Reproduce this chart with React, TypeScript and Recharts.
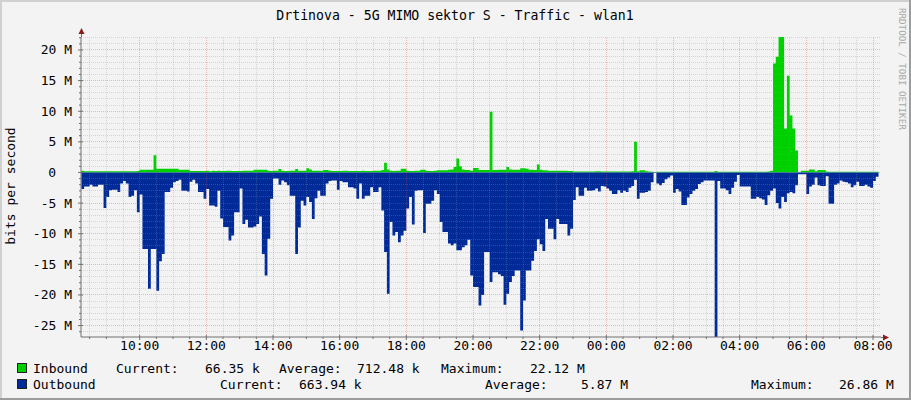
import React from "react";
import { ComposedChart, Area, XAxis, YAxis, ReferenceLine } from "recharts";

// samples every 5 minutes, first one at 08:15 (t = minutes after 08:00)
const START_MIN = 15;
const STEP_MIN = 5;

// inbound, Mbit/s, one row per hour
const inbound = [
  0.3, 0.2, 0.2, 0.2, 0.2, 0.2, 0.2, 0.2, 0.2, 0.2, 0.2, 0.2,
  0.2, 0.2, 0.2, 0.2, 0.2, 0.2, 0.2, 0.2, 0.25, 0.45, 0.45, 0.45,
  0.45, 0.45, 2.8, 0.6, 0.6, 0.6, 0.6, 0.6, 0.6, 0.6, 0.6, 0.45,
  0.45, 0.45, 0.45, 0.25, 0.25, 0.25, 0.25, 0.25, 0.25, 0.3, 0.2, 0.3,
  0.25, 0.3, 0.25, 0.25, 0.3, 0.3, 0.25, 0.25, 0.25, 0.25, 0.3, 0.3,
  0.3, 0.3, 0.45, 0.45, 0.45, 0.45, 0.45, 0.3, 0.25, 0.3, 0.3, 0.55,
  0.3, 0.25, 0.25, 0.3, 0.3, 0.55, 0.3, 0.3, 0.3, 0.7, 0.5, 0.3,
  0.3, 0.3, 0.3, 0.4, 0.4, 0.3, 0.25, 0.25, 0.25, 0.25, 0.3, 0.3,
  0.25, 0.25, 0.25, 0.25, 0.25, 0.3, 0.25, 0.25, 0.25, 0.3, 0.3, 0.3,
  0.4, 1.6, 0.5, 0.3, 0.25, 0.3, 0.3, 0.6, 0.6, 0.3, 0.25, 0.25,
  0.3, 0.3, 0.45, 0.45, 0.25, 0.25, 0.25, 0.3, 0.35, 0.35, 0.35, 0.35,
  0.45, 0.5, 0.9, 2.3, 1.0, 0.5, 0.4, 0.4, 0.3, 0.75, 0.75, 0.4,
  0.4, 0.4, 0.4, 9.9, 0.4, 0.4, 0.45, 0.45, 0.45, 0.9, 0.5, 0.45,
  0.45, 0.45, 0.7, 0.7, 0.6, 0.45, 0.45, 0.4, 1.3, 0.45, 0.35, 0.35,
  0.3, 0.3, 0.3, 0.3, 0.3, 0.3, 0.3, 0.25, 0.25, 0.15, 0.15, 0.15,
  0.15, 0.15, 0.15, 0.15, 0.15, 0.2, 0.2, 0.15, 0.15, 0.15, 0.15, 0.15,
  0.15, 0.15, 0.15, 0.15, 0.15, 0.15, 0.2, 5.0, 0.2, 0.35, 0.35, 0.2,
  0.15, 0.1, 0.05, 0.1, 0.1, 0.1, 0.1, 0.1, 0.1, 0.1, 0.1, 0.1,
  0.1, 0.1, 0.1, 0.1, 0.1, 0.1, 0.1, 0.1, 0.1, 0.1, 0.1, 0.1,
  0.25, 0.1, 0.1, 0.1, 0.1, 0.1, 0.1, 0.1, 0.1, 0.1, 0.1, 0.1,
  0.1, 0.1, 0.1, 0.1, 0.1, 0.1, 0.1, 0.15, 0.3, 17.8, 18.9, 22.12,
  22.12, 7.2, 15.8, 9.3, 7.2, 3.6, 0.05, 0.3, 0.3, 0.3, 0.5, 0.5,
  0.2, 0.4, 0.4, 0.4, 0.15, 0.1, 0.1, 0.1, 0.1, 0.1, 0.1, 0.1,
  0.1, 0.1, 0.1, 0.1, 0.1, 0.1, 0.1, 0.1, 0.1, 0.1, 0.1, 0.07,
];

// outbound, Mbit/s (drawn below zero)
const outbound = [
  2.7, 2.3, 2.3, 2.0, 2.3, 2.3, 2.0, 2.0, 5.8, 4.0, 2.9, 2.8,
  2.8, 3.2, 1.8, 1.4, 1.8, 4.0, 3.8, 2.9, 6.5, 3.6, 12.5, 12.5,
  19.0, 12.5, 12.5, 19.3, 14.5, 13.3, 3.2, 3.2, 2.5, 1.6, 1.4, 1.2,
  3.0, 3.0, 3.1, 1.5, 1.2, 1.8, 3.2, 3.2, 4.3, 2.7, 5.4, 5.4,
  5.6, 3.0, 7.5, 8.9, 8.9, 11.1, 10.3, 6.5, 6.5, 2.6, 8.4, 7.7,
  9.0, 9.0, 8.8, 8.4, 7.2, 13.3, 16.8, 10.8, 4.3, 1.0, 1.0, 2.0,
  1.3, 1.6, 2.1, 3.8, 3.8, 13.3, 9.0, 4.6, 5.4, 4.0, 4.8, 7.6,
  4.2, 3.0, 3.8, 3.8, 1.8, 1.4, 1.3, 1.3, 2.8, 1.4, 1.6, 1.6,
  2.4, 2.4, 2.6, 4.3, 1.8, 4.3, 3.8, 3.8, 2.4, 3.2, 3.2, 2.4,
  6.2, 13.0, 19.8, 8.1, 10.3, 9.7, 11.4, 10.3, 9.5, 5.9, 4.0, 8.5,
  3.0, 2.9, 2.9, 9.9, 5.1, 5.1, 4.6, 2.9, 3.5, 8.1, 9.7, 9.7,
  11.6, 11.9, 11.6, 12.7, 12.7, 12.2, 11.9, 11.0, 16.8, 18.7, 18.7, 21.7,
  20.0, 13.0, 13.0, 17.9, 16.3, 16.3, 16.6, 16.9, 21.6, 19.8, 17.9, 16.9,
  16.0, 16.0, 25.8, 20.9, 16.0, 16.0, 14.4, 12.8, 10.9, 11.7, 12.8, 7.6,
  9.2, 9.2, 10.9, 7.6, 8.4, 8.4, 8.4, 10.3, 9.2, 4.5, 2.4, 3.8,
  3.8, 2.5, 3.0, 3.0, 2.9, 2.6, 3.1, 2.2, 2.3, 2.6, 3.0, 3.5,
  3.5, 2.9, 3.3, 3.0, 3.2, 2.5, 2.2, 1.2, 4.3, 3.3, 3.3, 3.2,
  3.0, 1.6, 0.1, 1.8, 2.1, 1.7, 1.1, 0.8, 0.5, 3.3, 2.7, 3.1,
  5.3, 5.3, 4.1, 3.5, 3.0, 2.7, 1.9, 1.6, 1.3, 1.3, 1.3, 1.3,
  26.86, 1.4, 2.6, 2.6, 2.9, 3.5, 2.5, 1.5, 0.4, 2.3, 2.3, 2.3,
  2.3, 4.3, 4.3, 4.0, 4.2, 4.4, 5.3, 3.7, 3.0, 2.6, 5.0, 5.9,
  4.0, 4.8, 3.4, 3.2, 3.4, 2.1, 0.3, 0.3, 0.3, 3.5, 2.3, 2.0,
  0.8, 2.1, 2.2, 2.2, 0.6, 5.1, 5.1, 2.0, 1.8, 1.3, 1.5, 1.6,
  1.8, 2.4, 2.1, 1.5, 2.2, 2.2, 2.0, 2.3, 2.5, 1.4, 0.7, 0.66,
];

const timeTicks = [120, 240, 360, 480, 600, 720, 840, 960, 1080, 1200, 1320, 1440];
const timeLabels = ["10:00", "12:00", "14:00", "16:00", "18:00", "20:00", "22:00", "00:00", "02:00", "04:00", "06:00", "08:00"];
const valueTicks = [-25, -20, -15, -10, -5, 0, 5, 10, 15, 20];
const valueLabels = ["-25 M", "-20 M", "-15 M", "-10 M", "-5 M", "0", "5 M", "10 M", "15 M", "20 M"];

const legendIn = [["Inbound", 33], ["Current:", 116], ["66.35 k", 205], ["Average:", 279], ["712.48 k", 357], ["Maximum:", 441], ["22.12 M", 530]];
const legendOut = [["Outbound", 33], ["Current:", 220], ["663.94 k", 299], ["Average:", 485], ["5.87 M", 581], ["Maximum:", 751], ["26.86 M", 839]];

const FONT = '"DejaVu Sans Mono", monospace';
const AXIS = "#707070";
const MINOR = "rgba(150,150,150,0.32)";
const MAJOR = "rgba(225,70,70,0.35)";

const minorY: number[] = [];
for (let v = -26; v <= 22; v++) if (v % 5 !== 0) minorY.push(v);
const minorX: number[] = [];
for (let t = 30; t <= 1440; t += 30) if (t % 120 !== 0) minorX.push(t);

const XTick = (props: any) => {
  const { x, y, payload } = props;
  const idx = timeTicks.indexOf(payload.value);
  if (idx < 0) return <line x1={x} x2={x} y1={y} y2={y + 2} stroke={AXIS} />;
  return (
    <g>
      <line x1={x} x2={x} y1={y - 2} y2={y + 3} stroke={AXIS} />
      <text x={x} y={y + 13} textAnchor="middle" fontFamily={FONT} fontSize={13} fill="#000">
        {timeLabels[idx]}
      </text>
    </g>
  );
};

const YTick = (props: any) => {
  const { x, y, payload } = props;
  const idx = valueTicks.indexOf(payload.value);
  if (idx < 0) return <line x1={x - 2} x2={x} y1={y} y2={y} stroke={AXIS} />;
  const isZero = payload.value === 0;
  return (
    <g>
      <line x1={x - 3} x2={x + 2} y1={y} y2={y} stroke={AXIS} />
      <text x={isZero ? x - 25 : x - 9} y={y + 4.5} textAnchor="end" fontFamily={FONT} fontSize={13} fill="#000">
        {valueLabels[idx]}
      </text>
    </g>
  );
};

export default function App() {
  const data = inbound.map((v, i) => ({ t: START_MIN + i * STEP_MIN, inb: v, outb: -outbound[i] }));
  const yAll = [...minorY, ...valueTicks].sort((a, b) => a - b);
  const xAll = [...minorX, ...timeTicks].sort((a, b) => a - b);

  return (
    <div style={{ position: "absolute", left: 0, top: 0, width: 911, height: 400, background: "#F3F3F3" }}>
      <ComposedChart width={911} height={400} data={data} margin={{ top: 37, right: 30, bottom: 33, left: 11 }}>
        <XAxis
          type="number"
          dataKey="t"
          domain={[14.4, 1454.4]}
          ticks={xAll}
          interval={0}
          tickSize={0}
          tickMargin={0}
          tickLine={false}
          axisLine={{ stroke: AXIS }}
          height={30}
          tick={XTick}
          allowDataOverflow
        />
        <YAxis
          type="number"
          domain={[-26.86, 22.12]}
          ticks={yAll}
          interval={0}
          tickSize={0}
          tickMargin={0}
          tickLine={false}
          axisLine={{ stroke: AXIS }}
          width={70}
          tick={YTick}
          allowDataOverflow
        />
        <Area type="stepAfter" dataKey="inb" fill="#00CF00" fillOpacity={1} stroke="none" isAnimationActive={false} />
        <Area type="stepAfter" dataKey="outb" fill="#002A97" fillOpacity={1} stroke="none" isAnimationActive={false} />
        {minorY.map((v) => (
          <ReferenceLine key={"my" + v} y={v} stroke={MINOR} strokeDasharray="1 1" shapeRendering="crispEdges" />
        ))}
        {minorX.map((t) => (
          <ReferenceLine key={"mx" + t} x={t} stroke={MINOR} strokeDasharray="1 1" shapeRendering="crispEdges" />
        ))}
        {valueTicks.map((v) => (
          <ReferenceLine key={"My" + v} y={v} stroke={MAJOR} strokeDasharray="1 1" shapeRendering="crispEdges" />
        ))}
        {timeTicks.map((t) => (
          <ReferenceLine key={"Mx" + t} x={t} stroke={MAJOR} strokeDasharray="1 1" shapeRendering="crispEdges" />
        ))}
      </ComposedChart>

      <svg width={911} height={400} style={{ position: "absolute", left: 0, top: 0, pointerEvents: "none" }}>
        {/* frame */}
        <rect x={0} y={0} width={911} height={2} fill="#D0D0D0" />
        <rect x={0} y={0} width={2} height={400} fill="#D0D0D0" />
        <rect x={909} y={0} width={2} height={400} fill="#9C9C9C" />
        <rect x={0} y={398} width={911} height={2} fill="#9C9C9C" />

        <text x={455} y={20} textAnchor="middle" fontFamily={FONT} fontSize={13.2} fill="#000">
          Drtinova - 5G MIMO sektor S - Traffic - wlan1
        </text>
        <text transform="translate(899,8) rotate(90)" fontFamily={FONT} fontSize={9.2} fill="#A8A8A8">
          RRDTOOL / TOBI OETIKER
        </text>
        <text transform="translate(15,186) rotate(-90)" textAnchor="middle" fontFamily={FONT} fontSize={13} fill="#000">
          bits per second
        </text>

        {/* axis extensions with arrows */}
        <line x1={81.5} x2={81.5} y1={31} y2={37} stroke={AXIS} />
        <polygon points="81.5,28 78.5,34 84.5,34" fill="#8B1A1A" />
        <line x1={881} x2={886} y1={337.5} y2={337.5} stroke={AXIS} />
        <polygon points="889,337.5 883,334.5 883,340.5" fill="#8B1A1A" />

        {/* legend */}
        <rect x={17.5} y={363.5} width={9} height={9} fill="#00CF00" stroke="#222" />
        <rect x={17.5} y={379.5} width={9} height={9} fill="#002A97" stroke="#222" />
        {legendIn.map(([s, x]) => (
          <text key={"li" + s} x={x as number} y={373} fontFamily={FONT} fontSize={13} fill="#000">
            {s}
          </text>
        ))}
        {legendOut.map(([s, x]) => (
          <text key={"lo" + s} x={x as number} y={389} fontFamily={FONT} fontSize={13} fill="#000">
            {s}
          </text>
        ))}
      </svg>
    </div>
  );
}
